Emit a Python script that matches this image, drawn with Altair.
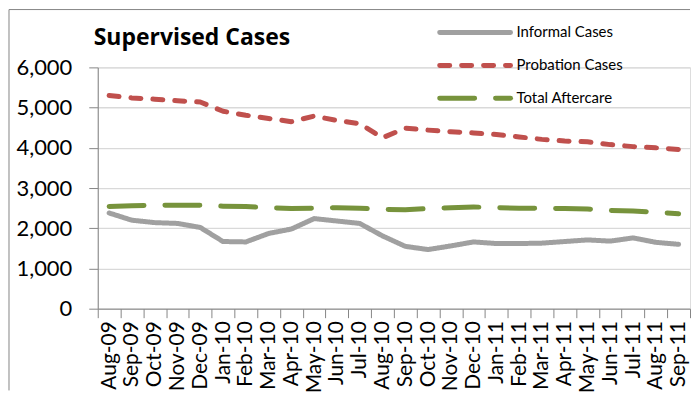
import altair as alt
import pandas as pd

months = ["Aug-09", "Sep-09", "Oct-09", "Nov-09", "Dec-09", "Jan-10", "Feb-10", "Mar-10",
          "Apr-10", "May-10", "Jun-10", "Jul-10", "Aug-10", "Sep-10", "Oct-10", "Nov-10",
          "Dec-10", "Jan-11", "Feb-11", "Mar-11", "Apr-11", "May-11", "Jun-11", "Jul-11",
          "Aug-11", "Sep-11"]
informal = [2380, 2200, 2140, 2120, 2020, 1670, 1660, 1870, 1980, 2240, 2180, 2120, 1810,
            1550, 1470, 1560, 1660, 1620, 1620, 1630, 1670, 1710, 1680, 1760, 1650, 1600]
probation = [5300, 5240, 5210, 5170, 5140, 4910, 4810, 4730, 4650, 4790, 4680, 4600, 4250,
             4490, 4440, 4400, 4370, 4330, 4270, 4210, 4170, 4150, 4080, 4030, 4000, 3960]
aftercare = [2540, 2560, 2570, 2570, 2570, 2550, 2540, 2510, 2490, 2500, 2510, 2500, 2470,
             2460, 2490, 2510, 2530, 2510, 2500, 2500, 2490, 2480, 2440, 2430, 2400, 2360]
series = ["Informal Cases", "Probation Cases", "Total Aftercare"]
colors = ["#A0A0A0", "#C0504D", "#77933C"]
dashes = [[1, 0], [10, 12], [35, 21]]
y_ticks = [0, 1000, 2000, 3000, 4000, 5000, 6000]
chart_title = "Supervised Cases"

rows = []
for name, vals in zip(series, [informal, probation, aftercare]):
    for i, (m, v) in enumerate(zip(months, vals)):
        rows.append({"Month": m, "Series": name, "Cases": v, "order": i})
df = pd.DataFrame(rows)
legend_df = pd.DataFrame({"Series": series})

W, H = 594, 242
FONT = "Lato"

color_scale = alt.Scale(domain=series, range=colors)
dash_scale = alt.Scale(domain=series, range=dashes)

lines = alt.Chart(df).mark_line(strokeWidth=5, strokeCap="round", strokeJoin="round").encode(
    x=alt.X("Month:N", sort=months, title=None,
            scale=alt.Scale(paddingInner=0, paddingOuter=0),
            axis=alt.Axis(labelAngle=-90, tickBand="extent", tickSize=9, labelPadding=3,
                          labelFontSize=21, labelFont=FONT, labelColor="#000000",
                          domainColor="#868686", tickColor="#868686", grid=False)),
    y=alt.Y("Cases:Q", title=None,
            scale=alt.Scale(domain=[0, 6000], nice=False),
            axis=alt.Axis(values=y_ticks, format=",.0f",
                          tickSize=9, labelPadding=17, labelFontSize=22, labelFont=FONT,
                          labelColor="#000000", domainColor="#868686", tickColor="#868686",
                          gridColor="#D9D9D9", gridWidth=1.3)),
    color=alt.Color("Series:N", scale=color_scale, legend=None),
    strokeDash=alt.StrokeDash("Series:N", scale=dash_scale, legend=None),
    order="order:Q",
)

# legend drawn from the series list (rows placed by a point scale)
leg_y = alt.Y("Series:N", sort=series, axis=None, title=None,
              scale=alt.Scale(type="point", domain=series, range=[-35, 31], padding=0))
leg_lines = alt.Chart(legend_df).mark_rule(strokeWidth=5, strokeCap="round").encode(
    x=alt.value(343), x2=alt.value(414), y=leg_y,
    color=alt.Color("Series:N", scale=color_scale, legend=None),
    strokeDash=alt.StrokeDash("Series:N", scale=dash_scale, legend=None),
)
leg_text = alt.Chart(legend_df).mark_text(align="left", baseline="middle", fontSize=15,
                                          font=FONT, color="#000000").encode(
    x=alt.value(420), y=leg_y, text="Series:N",
)

one = alt.Data(values=[{"a": 1}])
title_mark = alt.Chart(one).mark_text(text=chart_title, align="left", baseline="alphabetic",
                                      fontSize=23, font="Open Sans", fontWeight="bold",
                                      color="#000000").encode(
    x=alt.value(-4), y=alt.value(-22))
border_left = alt.Chart(one).mark_rule(color="#868686", strokeWidth=1).encode(
    x=alt.value(-89), y=alt.value(-58), y2=alt.value(H + 82))
border_top = alt.Chart(one).mark_rule(color="#868686", strokeWidth=1).encode(
    x=alt.value(-89), x2=alt.value(W), y=alt.value(-58))

chart = alt.layer(border_left, border_top, lines, leg_lines, leg_text, title_mark).resolve_scale(
    y="independent"
).properties(
    width=W, height=H, padding=0,
).configure_view(stroke=None).configure(background="white")

chart.save("out.html", embed_options={"renderer": "svg", "actions": False})
